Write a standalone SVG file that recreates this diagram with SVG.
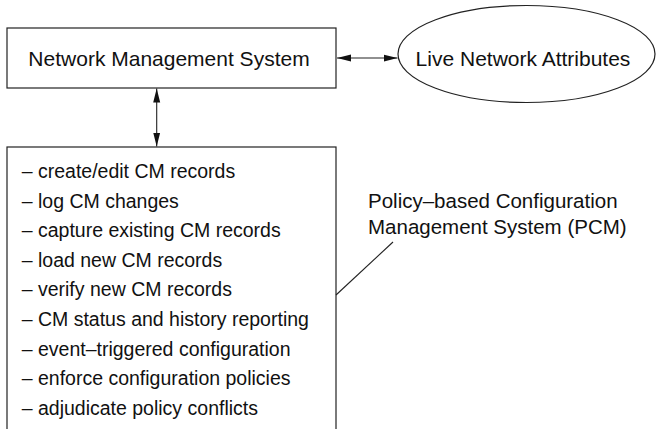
<svg xmlns="http://www.w3.org/2000/svg" width="657" height="429" viewBox="0 0 657 429">
<style>
.box{fill:#fff;stroke:#222;stroke-width:1.2}
.t{font-family:"Liberation Sans",Arial,sans-serif;fill:#111}
.title{font-size:21px}
.item{font-size:19.5px}
.lbl{font-size:20.5px}
.conn{stroke:#222;stroke-width:1.1;fill:none}
</style>
<defs>
<marker id="ah" markerUnits="userSpaceOnUse" markerWidth="16" markerHeight="10" refX="14" refY="4" orient="auto-start-reverse" viewBox="0 0 16 10">
<path d="M0,0.5 L14,4 L0,7.5 Z" fill="#111"/>
</marker>
</defs>
<g id="nms">
<rect class="box" x="7" y="28" width="329" height="60"/>
<text class="t title" x="169" y="66" text-anchor="middle">Network Management System</text>
</g>
<g id="lna">
<ellipse class="box" cx="526.5" cy="54" rx="128.5" ry="48.5"/>
<text class="t title" x="523" y="66" text-anchor="middle">Live Network Attributes</text>
</g>
<g id="pcm">
<rect class="box" x="7" y="147" width="329" height="300"/>
<text class="t item" x="21.7">
<tspan x="21.7" y="178">– create/edit CM records</tspan>
<tspan x="21.7" y="207.6">– log CM changes</tspan>
<tspan x="21.7" y="237.2">– capture existing CM records</tspan>
<tspan x="21.7" y="266.8">– load new CM records</tspan>
<tspan x="21.7" y="296.4">– verify new CM records</tspan>
<tspan x="21.7" y="326">– CM status and history reporting</tspan>
<tspan x="21.7" y="355.6">– event–triggered configuration</tspan>
<tspan x="21.7" y="385.2">– enforce configuration policies</tspan>
<tspan x="21.7" y="414.8">– adjudicate policy conflicts</tspan>
</text>
</g>
<g id="pcm-label">
<text class="t lbl" x="368"><tspan x="368" y="208">Policy–based Configuration</tspan><tspan x="368" y="234">Management System (PCM)</tspan></text>
</g>
<g id="connectors">
<line class="conn" x1="337" y1="58" x2="397.5" y2="58" marker-start="url(#ah)" marker-end="url(#ah)"/>
<line class="conn" x1="156.7" y1="88.6" x2="156.7" y2="146.5" marker-start="url(#ah)" marker-end="url(#ah)"/>
<line class="conn" x1="336" y1="295" x2="393" y2="242"/>
</g>
</svg>
